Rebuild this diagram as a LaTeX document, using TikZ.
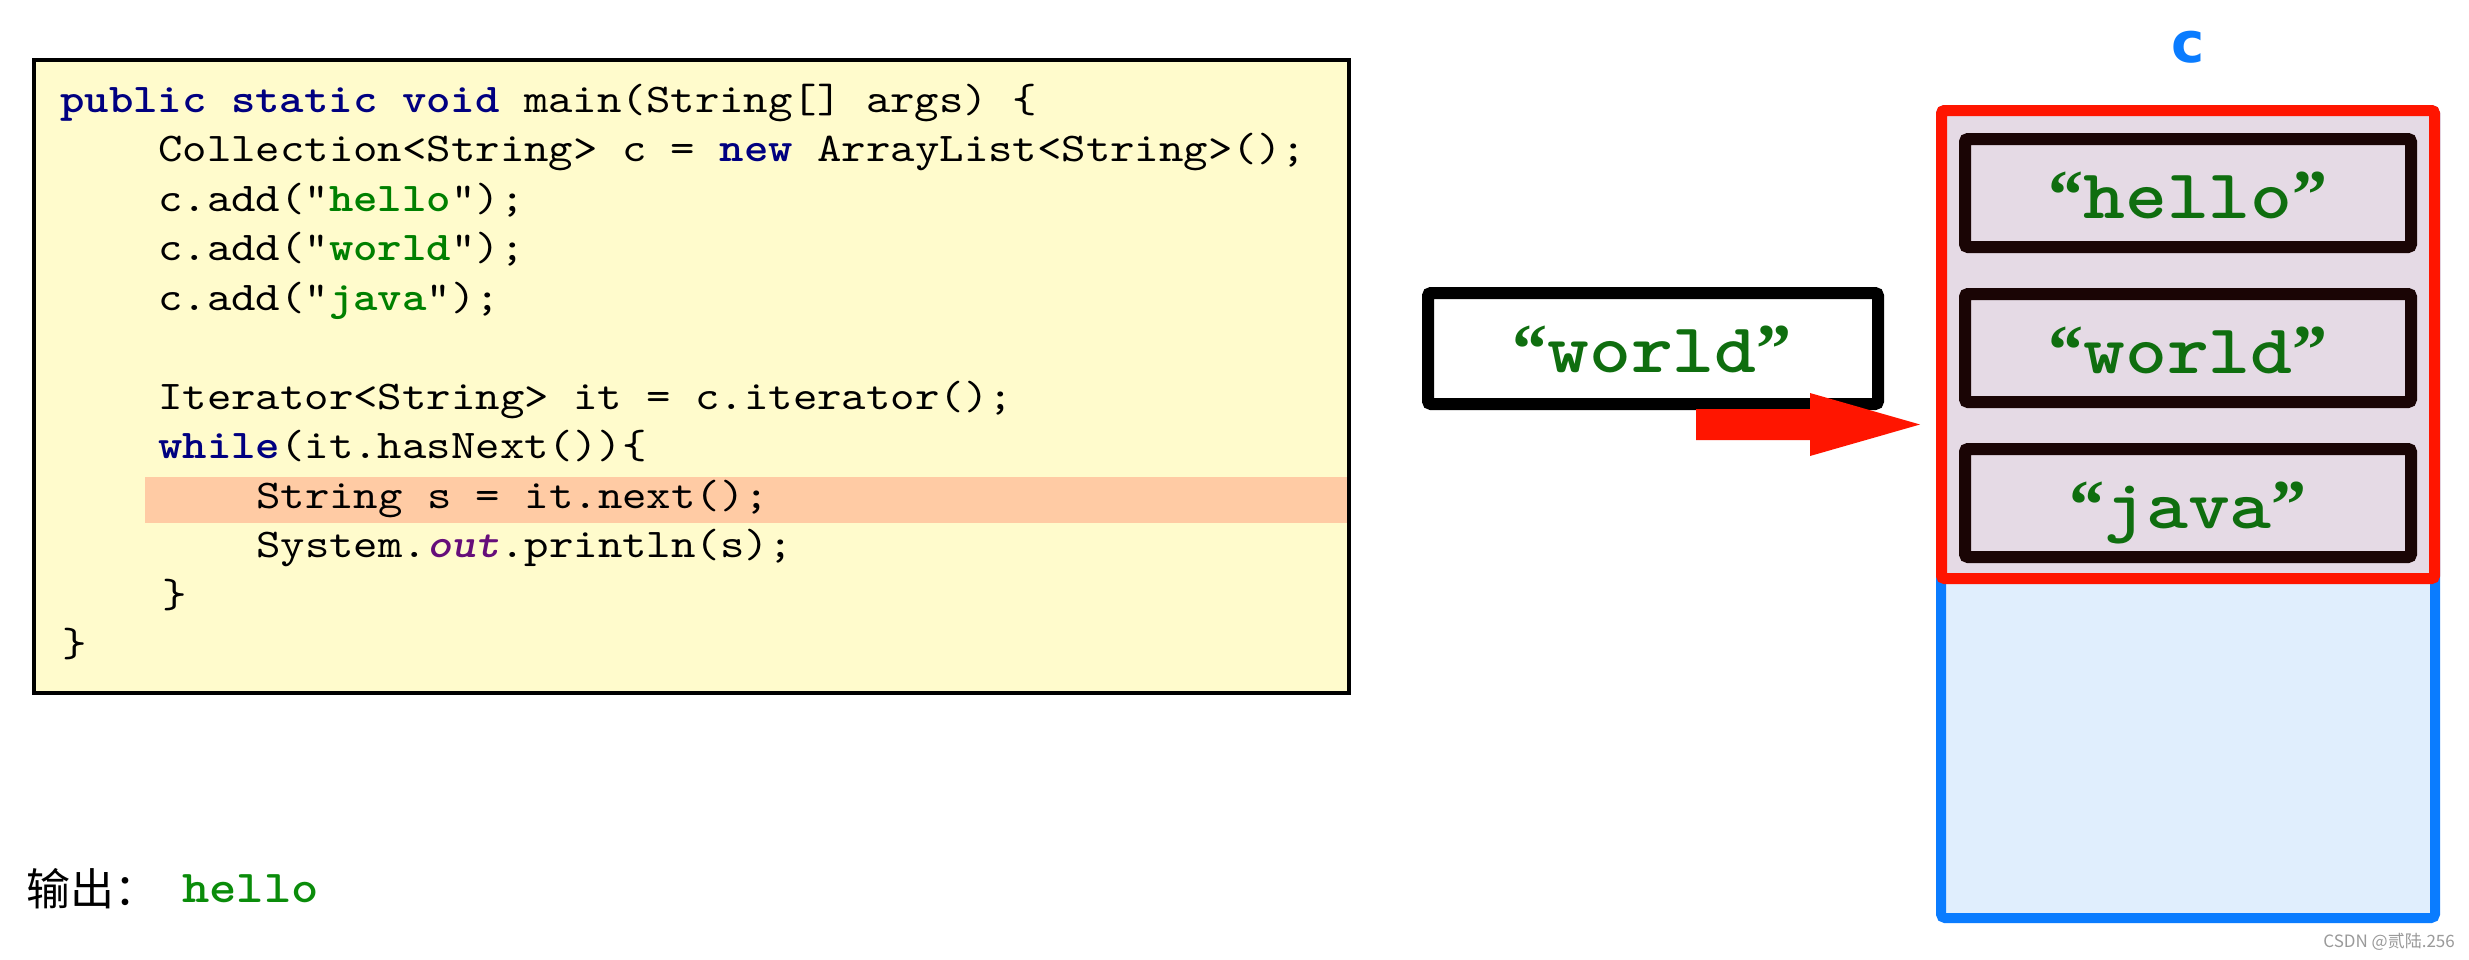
\documentclass[tikz,border=0pt]{standalone}
\usepackage{fontspec}
\newfontfamily\codefont{lmmono10-regular}[Extension=.otf,
  BoldFont=lmmonolt10-bold, ItalicFont=lmmono10-italic,
  BoldItalicFont=lmmonolt10-boldoblique, FakeStretch=1.14]
\newfontfamily\quotefont{Liberation Serif}
\newfontfamily\cjkfont{Noto Sans CJK SC}
\newfontfamily\labelfont{DejaVu Sans}
\definecolor{codebg}{HTML}{FFFBCC}
\definecolor{hl}{HTML}{FFCBA4}
\definecolor{kwblue}{HTML}{000080}
\definecolor{strgreen}{HTML}{008000}
\definecolor{outpurple}{HTML}{660E7A}
\definecolor{lilac}{HTML}{E5DAE5}
\definecolor{lightblue}{HTML}{E0EEFD}
\definecolor{redc}{HTML}{FF1500}
\definecolor{bluec}{HTML}{0A7CFF}
\definecolor{darkbox}{HTML}{1A0505}
\definecolor{boxgreen}{HTML}{0F6E0F}
\definecolor{outgreen}{HTML}{0A8C0A}
\definecolor{wmgray}{HTML}{9A9A9A}
\newcommand\jkw[1]{{\bfseries\color{kwblue}#1}}
\newcommand\jstr[1]{{\bfseries\color{strgreen}#1}}
\newcommand\jout[1]{{\bfseries\itshape\color{outpurple}#1}}
\newcommand\qstr[1]{{\quotefont\bfseries “}{\codefont\bfseries #1}{\quotefont\bfseries ”}}
\tikzset{
  codeline/.style={anchor=base west, inner sep=0pt, font=\codefont\fontsize{40.8}{48}\selectfont},
  codebox/.style={draw=black, line width=4pt, fill=codebg, inner sep=0pt},
  elembox/.style={draw=darkbox, line width=12pt, fill=lilac, inner sep=0pt, rounded corners=3pt,
                  minimum width=446pt, minimum height=108pt},
  worldbox/.style={draw=black, line width=12pt, fill=white, inner sep=0pt, rounded corners=3pt,
                  minimum width=450pt, minimum height=111pt},
  elemtext/.style={anchor=base, inner sep=0pt, text=boxgreen, font=\fontsize{70}{80}\selectfont},
}
\begin{document}
\begin{tikzpicture}[x=1pt,y=-1pt]
\useasboundingbox (0,0) rectangle (2469,959);
\fill[white] (0,0) rectangle (2469,959);

% code panel
\node[codebox, minimum width=1315pt, minimum height=633pt] (code) at (691.5,376.5) {};
\fill[hl] (145,477) rectangle (1347,523);
\node[codeline] (l1) at (60,112) {\jkw{public static void} main(String[] args) \{};
\node[codeline] (l2) at (158,161.5) {Collection<String> c = \jkw{new} ArrayList<String>();};
\node[codeline] (l3) at (158,211) {c.add("\jstr{hello}");};
\node[codeline] (l4) at (158,260.5) {c.add("\jstr{world}");};
\node[codeline] (l5) at (158,310) {c.add("\jstr{java}");};
\node[codeline] (l7) at (158,409) {Iterator<String> it = c.iterator();};
\node[codeline] (l8) at (158,458.5) {\jkw{while}(it.hasNext())\{};
\node[codeline] (l9) at (256,508) {String s = it.next();};
\node[codeline] (l10) at (256,557.5) {System.\jout{out}.println(s);};
\node[codeline] (l11) at (162,607) {\}};
\node[codeline] (l12) at (62,656.5) {\}};

% output
\node[anchor=base west, inner sep=0pt, font=\cjkfont\fontsize{44}{50}\selectfont] (outlabel) at (26,905) {输出：};
\node[anchor=base west, inner sep=0pt, text=outgreen, font=\codefont\bfseries\fontsize{45.6}{50}\selectfont] (outval) at (182,902) {hello};

% collection c
\draw[draw=bluec, line width=10pt, fill=lightblue, rounded corners=4pt] (1941,110) rectangle (2435,918);
\node[draw=redc, line width=11pt, fill=lilac, rounded corners=3pt, inner sep=0pt,
      minimum width=493pt, minimum height=468pt] (coll) at (2188,344.5) {};
\node[anchor=base, inner sep=0pt, text=bluec, font=\labelfont\bfseries\fontsize{56}{60}\selectfont] (clabel) at (2188,62) {c};

\node[elembox] (hello) at (2188,193) {};
\node[elembox] (world) at (2188,348) {};
\node[elembox] (java) at (2188,503) {};
\node[elemtext] (thello) at (2188,218) {\qstr{hello}};
\node[elemtext] (tworld) at (2188,373) {\qstr{world}};
\node[elemtext] (tjava) at (2188,528) {\qstr{java}};

% current element
\node[worldbox] (cur) at (1653,348.5) {};
\node[elemtext] (tcur) at (1652,372) {\qstr{world}};

% red block arrow
\coordinate (tip) at (1920,424.5);
\fill[redc] (1696,409) -- (1810,409) -- (1810,393) -- (tip) -- (1810,456) -- (1810,440) -- (1696,440) -- cycle;

% watermark
\node[anchor=base east, inner sep=0pt, text=wmgray, font=\cjkfont\fontsize{17}{20}\selectfont] (wm) at (2455,947) {CSDN @贰陆.256};
\end{tikzpicture}
\end{document}
